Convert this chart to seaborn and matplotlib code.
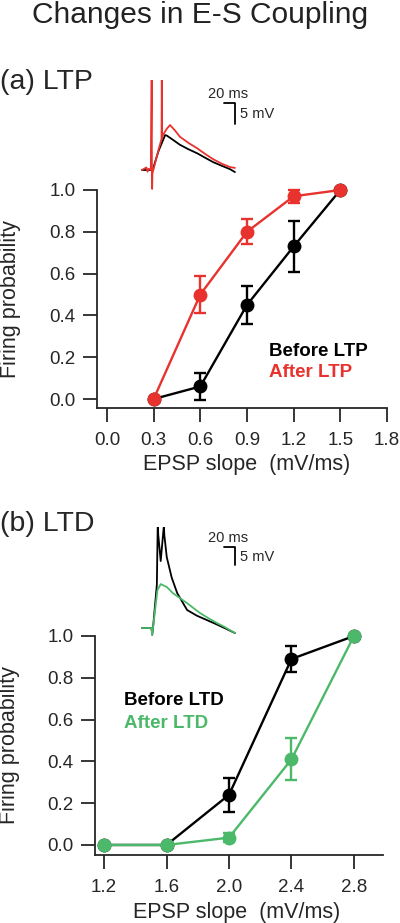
import matplotlib
matplotlib.use("Agg")
import matplotlib.pyplot as plt
import seaborn as sns

# === data: panel (a) LTP ===
ltp_slope = [0.3, 0.6, 0.9, 1.2, 1.5]
ltp_before = [0.0, 0.06, 0.45, 0.73, 1.0]
ltp_before_err = [0.0, 0.065, 0.09, 0.12, 0.0]
ltp_after = [0.0, 0.50, 0.80, 0.97, 1.0]
ltp_after_err = [0.0, 0.09, 0.06, 0.03, 0.0]

# === data: panel (b) LTD ===
ltd_slope = [1.2, 1.6, 2.0, 2.4, 2.8]
ltd_before = [0.0, 0.0, 0.24, 0.89, 1.0]
ltd_before_err = [0.0, 0.0, 0.08, 0.06, 0.0]
ltd_after = [0.0, 0.0, 0.035, 0.41, 1.0]
ltd_after_err = [0.0, 0.0, 0.02, 0.10, 0.0]

# === example traces (ms, mV) ===
ltp_trace_before_t = [0, 17, 20, 30, 42, 45, 55, 69, 85, 100, 115, 129, 145, 160, 169]
ltp_trace_before_v = [0, 0, 0.3, 4.5, 8.3, 8.2, 7.3, 6.0, 4.9, 4.0, 2.9, 1.9, 1.0, 0.2, -0.5]
ltp_trace_after_t = [0, 8, 10, 12, 16, 17.6, 18, 18.4, 19, 21, 30, 35.5, 36, 36.5, 38, 45, 51,
                     60, 69, 85, 100, 115, 129, 145, 160, 169]
ltp_trace_after_v = [0, 0.6, -0.4, 0.3, 0, 21.4, 0, -4.5, -0.8, 0.2, 4.8, 7.4, 21.4, 7.6, 8.3, 9.8, 10.7,
                     9.4, 7.9, 6.4, 5.2, 3.8, 2.6, 1.5, 0.7, 0.5]

ltd_trace_before_t = [0, 17, 18, 18.5, 20, 27, 28.5, 29, 29.5, 34, 39.5, 40, 40.5, 45, 54, 64, 82,
                      100, 115, 130, 150, 169]
ltd_trace_before_v = [0, 0, -1.0, -1.9, 0, 12, 28, 28, 26, 18.6, 28, 28, 26, 19.7, 14.0, 9.7, 5.0,
                      3.4, 2.4, 1.4, 0.0, -1.4]
ltd_trace_after_t = [0, 17, 18, 18.5, 20, 28, 34, 45, 56, 70, 82, 105, 120, 136, 150, 169]
ltd_trace_after_v = [0, 0, -1.0, -1.9, 0, 10.5, 12.2, 11.4, 9.7, 8.2, 6.9, 4.2, 2.8, 1.4, 0.3, -1.4]

red = '#e8322d'
green = '#4cb96a'
W, H = 400, 923

sns.set_style("ticks")
plt.rcParams['font.family'] = ['Liberation Sans', 'DejaVu Sans']
plt.rcParams['axes.linewidth'] = 1.3
plt.rcParams['xtick.major.width'] = 1.3
plt.rcParams['ytick.major.width'] = 1.3
plt.rcParams['xtick.major.size'] = 10
plt.rcParams['ytick.major.size'] = 10
plt.rcParams['xtick.major.pad'] = 7
plt.rcParams['ytick.major.pad'] = 5.5
plt.rcParams['xtick.labelsize'] = 13.5
plt.rcParams['ytick.labelsize'] = 13.5

fig = plt.figure(figsize=(W / 100, H / 100), dpi=100)


def box(left, top, right, bottom):
    # pixel box -> figure fraction
    return [left / W, 1 - bottom / H, (right - left) / W, (bottom - top) / H]


def draw_curve(ax, x, y, err, color, z):
    ax.errorbar(x, y, yerr=err, fmt='none', ecolor=color, elinewidth=1.7,
                capsize=4.5, capthick=1.7, zorder=z, clip_on=False)
    sns.lineplot(x=x, y=y, color=color, linewidth=1.7, marker='o', markersize=10,
                 markeredgewidth=0, ax=ax, zorder=z + 1, legend=False)
    for ln in ax.lines:
        ln.set_clip_on(False)


def style_axes(ax, xticks, xlim, ylim, xlabel_x, xlabel_y):
    ax.set_xlim(*xlim)
    ax.set_ylim(*ylim)
    ax.set_xticks(xticks)
    ax.set_xticklabels([f'{t:.1f}' for t in xticks])
    ax.set_yticks([0.0, 0.2, 0.4, 0.6, 0.8, 1.0])
    ax.set_yticklabels(['0.0', '0.2', '0.4', '0.6', '0.8', '1.0'])
    sns.despine(ax=ax)
    ax.set_xlabel('EPSP slope  (mV/ms)', fontsize=15.5, va='top')
    ax.set_ylabel('Firing probability', fontsize=15.5)
    ax.xaxis.set_label_coords(xlabel_x, xlabel_y)
    ax.yaxis.set_label_coords(-0.262, 0.5)
    ax.patch.set_alpha(0)


def draw_trace(ax, t1, v1, c1, t2, v2, c2, xlim, ylim, bar_v, txt_v, mv_v):
    sns.lineplot(x=t1, y=v1, color=c1, linewidth=1.3, sort=False, estimator=None, ax=ax)
    sns.lineplot(x=t2, y=v2, color=c2, linewidth=1.3, sort=False, estimator=None, ax=ax)
    ax.set_xlim(*xlim)
    ax.set_ylim(*ylim)
    ax.axis('off')
    # scale bar 20 ms / 5 mV
    ax.plot([149, 169, 169], [bar_v, bar_v, bar_v - 5], color='black', linewidth=1.3, clip_on=False)
    ax.text(157, txt_v, '20 ms', fontsize=10.5, ha='center', va='center')
    ax.text(178, mv_v, '5 mV', fontsize=10.5, ha='left', va='center')


# title and panel labels
fig.text(0.5, 1 - 23 / H, 'Changes in E-S Coupling', fontsize=21.5, ha='center',
         va='baseline', color='#222222')
fig.text(0, 1 - 89 / H, '(a) LTP', fontsize=20.5, ha='left', va='baseline')
fig.text(0, 1 - 531 / H, '(b) LTD', fontsize=20.5, ha='left', va='baseline')

# === panel (a) ===
ax_a = fig.add_axes(box(97, 190, 387, 408))
draw_curve(ax_a, ltp_slope, ltp_before, ltp_before_err, 'black', 3)
draw_curve(ax_a, ltp_slope, ltp_after, ltp_after_err, red, 5)
style_axes(ax_a, [0.0, 0.3, 0.6, 0.9, 1.2, 1.5, 1.8], (-0.064, 1.8), (-0.043, 1.0),
           0.5 + 5 / 290, -(454 - 408) / 218)
ax_a.text(1.04, 0.225, 'Before LTP', fontsize=13.5, fontweight='bold', color='black', va='center')
ax_a.text(1.04, 0.128, 'After LTP', fontsize=13.5, fontweight='bold', color=red, va='center')

tr_a = fig.add_axes(box(139.25, 80.1, 252, 195.2))
draw_trace(tr_a, ltp_trace_before_t, ltp_trace_before_v, 'black',
           ltp_trace_after_t, ltp_trace_after_v, red,
           (-5, 200), (-6, 21.4), 16, 18.1, 13.3)

# === panel (b) ===
ax_b = fig.add_axes(box(95, 636, 383, 855))
draw_curve(ax_b, ltd_slope, ltd_before, ltd_before_err, 'black', 3)
draw_curve(ax_b, ltd_slope, ltd_after, ltd_after_err, green, 5)
style_axes(ax_b, [1.2, 1.6, 2.0, 2.4, 2.8], (1.142, 2.986), (-0.048, 1.0),
           (237 - 95) / 288, -(902 - 855) / 219)
ax_b.text(1.328, 0.689, 'Before LTD', fontsize=13.5, fontweight='bold', color='black', va='center')
ax_b.text(1.328, 0.579, 'After LTD', fontsize=13.5, fontweight='bold', color=green, va='center')

tr_b = fig.add_axes(box(139.25, 527.2, 252, 642.4))
draw_trace(tr_b, ltd_trace_before_t, ltd_trace_before_v, 'black',
           ltd_trace_after_t, ltd_trace_after_v, green,
           (-5, 200), (-4, 28), 22.5, 25, 19.7)

plt.savefig('out.png', dpi=100)
